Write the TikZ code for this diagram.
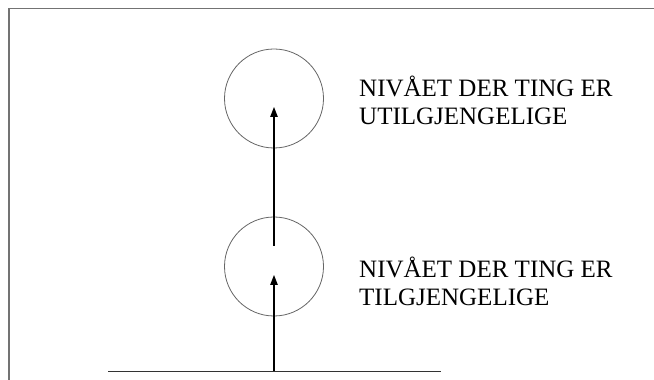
\documentclass[tikz,border=0pt]{standalone}
\usepackage{fontspec}
\setmainfont{Liberation Serif}
\usetikzlibrary{arrows.meta}
\usetikzlibrary{positioning}

\begin{document}
\begin{tikzpicture}[x=1pt, y=1pt,
frame/.style = {draw=black!55, line width=1.1pt},
level/.style = {circle, draw=black!60, line width=0.8pt, minimum size=99pt, inner sep=0pt},
levelText/.style = {anchor=base west, align=left, inner sep=0pt, font=\fontsize{25}{28.8}\selectfont},
ground/.style = {draw=black!80, line width=0.9pt},
rise/.style = {draw=black, line width=1.1pt, -{Triangle[length=10pt, width=7.5pt]}}]
\useasboundingbox (0,0) rectangle (654,380);

% outer frame, open to the right and below
\draw[frame] (9,-2) -- (9,371.5) -- (656,371.5);

\node[level] (low) at (274,113.5) {};
\node[level] (high) at (274,281.5) {};

% base anchor sits on the last line
\node[levelText] (highText) at (359,255) {NIVÅET DER TING ER\\UTILGJENGELIGE};
\node[levelText] (lowText) at (359,74) {NIVÅET DER TING ER\\TILGJENGELIGE};

% the ground line and the two steps upwards
\coordinate (groundL) at (108,9);
\coordinate (groundR) at (441,9);
\coordinate (base) at (274,9);
\coordinate (lowTip) at (274,105);
\coordinate (lowStart) at (274,134);
\coordinate (highTip) at (274,273);

\draw[ground] (groundL) -- (groundR);
\draw[rise] (base) -- (lowTip);
\draw[rise] (lowStart) -- (highTip);

\end{tikzpicture}
\end{document}
